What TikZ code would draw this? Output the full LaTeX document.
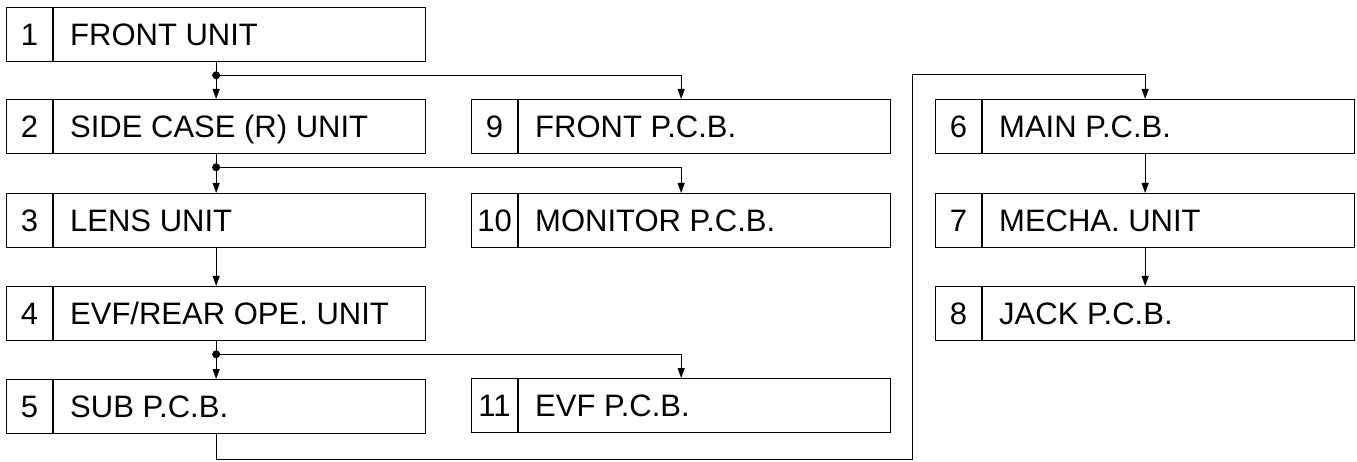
\documentclass[tikz,border=0pt]{standalone}
\usepackage{fontspec}
\setmainfont{Liberation Sans}
\usetikzlibrary{arrows.meta}
\newcommand\unitbox[5]{%
  \node[box] (#1) at (#2,#3) {};
  \draw[boxline] ([xshift=47pt]#1.north west) -- ([xshift=47pt]#1.south west);
  \node[numtxt] (#1n) at ([xshift=23.5pt,yshift=-11pt]#1.west) {#4};
  \node[lbl] (#1t) at ([xshift=64pt,yshift=-11pt]#1.west) {#5};
}
\begin{document}
\begin{tikzpicture}[x=1pt,y=-1pt,
  boxline/.style={line width=1.3pt},
  box/.style={draw, line width=1.3pt, minimum width=419pt, minimum height=54pt, anchor=north west, inner sep=0pt},
  numtxt/.style={anchor=base, inner sep=0pt, font=\fontsize{31}{31}\selectfont},
  lbl/.style={anchor=base west, inner sep=0pt, font=\fontsize{31}{31}\selectfont},
  conn/.style={line width=1pt},
  arr/.style={conn, -{Triangle[length=10pt,width=7pt]}},
  jdot/.style={circle, fill, inner sep=0pt, minimum size=8pt}
]
\useasboundingbox (0,0) rectangle (1357,462);
\unitbox{b1}{6}{7}{1}{FRONT UNIT}
\unitbox{b2}{6}{99}{2}{SIDE CASE (R) UNIT}
\unitbox{b3}{6}{193}{3}{LENS UNIT}
\unitbox{b4}{6}{286}{4}{EVF/REAR OPE. UNIT}
\unitbox{b5}{6}{379}{5}{SUB P.C.B.}
\unitbox{b9}{471}{99}{9}{FRONT P.C.B.}
\unitbox{b10}{471}{193}{10}{MONITOR P.C.B.}
\unitbox{b11}{471}{378}{11}{EVF P.C.B.}
\unitbox{b6}{935}{99}{6}{MAIN P.C.B.}
\unitbox{b7}{935}{193}{7}{MECHA. UNIT}
\unitbox{b8}{935}{286}{8}{JACK P.C.B.}
% junctions
\node[jdot] (j1) at ([yshift=-13pt]b1.south) {};
\node[jdot] (j2) at ([yshift=-13pt]b2.south) {};
\node[jdot] (j4) at ([yshift=-13pt]b4.south) {};
\draw[conn] (b1.south) -- (j1.center);
\draw[arr] (j1.center) -- (b2.north);
\draw[arr] (j1.center) -| (b9.north);
\draw[conn] (b2.south) -- (j2.center);
\draw[arr] (j2.center) -- (b3.north);
\draw[arr] (j2.center) -| (b10.north);
\draw[arr] (b3.south) -- (b4.north);
\draw[conn] (b4.south) -- (j4.center);
\draw[arr] (j4.center) -- (b5.north);
\draw[arr] (j4.center) -| (b11.north);
% return path
\coordinate (r1) at (912,459);
\coordinate (r2) at (912,75);
\draw[arr] (b5.south) |- (r1) -- (r2) -| (b6.north);
\draw[arr] (b6.south) -- (b7.north);
\draw[arr] (b7.south) -- (b8.north);
\end{tikzpicture}
\end{document}
